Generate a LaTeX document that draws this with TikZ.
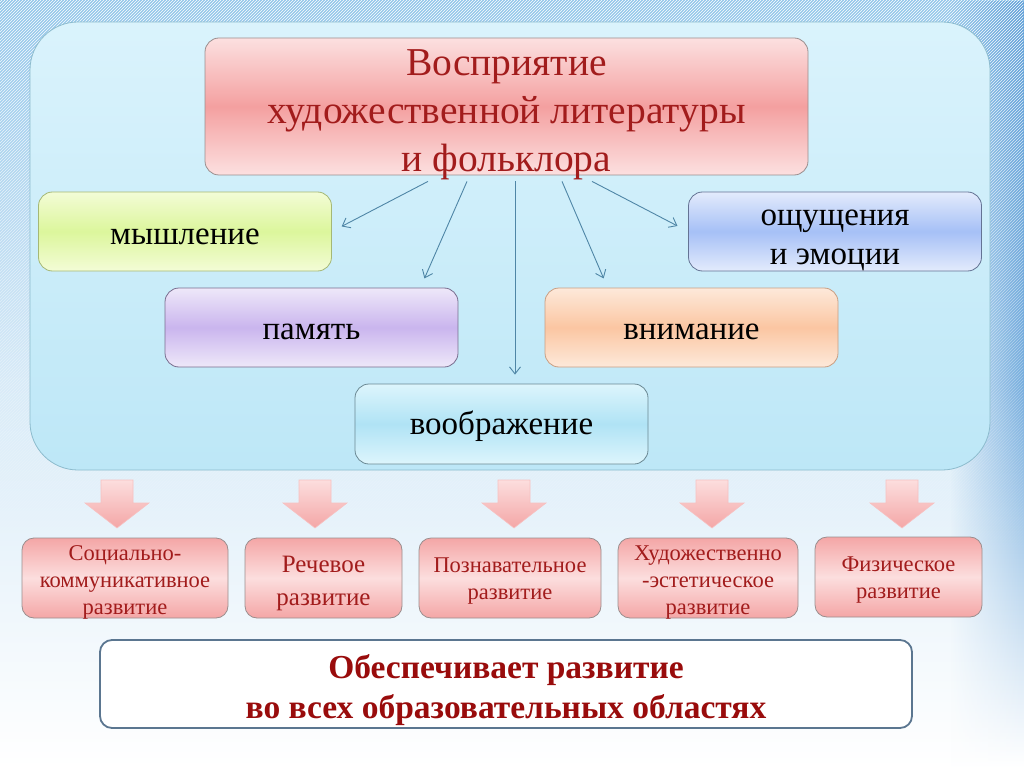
\documentclass[tikz,border=0pt]{standalone}
\usepackage{fontspec}
\setmainfont{Liberation Serif}
\usetikzlibrary{arrows.meta,calc,fadings,patterns}
\definecolor{bgtop}{HTML}{92C6EA}
\definecolor{bgright}{HTML}{5E9FD8}
\definecolor{panelA}{HTML}{DAF3FC}
\definecolor{panelB}{HTML}{BDE7F7}
\definecolor{panelline}{HTML}{8CBBCD}
\definecolor{darkred}{HTML}{A21C1C}
\definecolor{deepred}{HTML}{990C0C}
\definecolor{conncol}{HTML}{4F86A6}
\definecolor{tA}{HTML}{FCE0E0}
\definecolor{tB}{HTML}{F4A0A0}
\definecolor{gA}{HTML}{F3FCD6}
\definecolor{gB}{HTML}{DCF69C}
\definecolor{bA}{HTML}{E3EBFC}
\definecolor{bB}{HTML}{A6C0F6}
\definecolor{lA}{HTML}{EEE8F9}
\definecolor{lB}{HTML}{CAB5EE}
\definecolor{oA}{HTML}{FDE9DA}
\definecolor{oB}{HTML}{FBC6A2}
\definecolor{cA}{HTML}{DDF5FC}
\definecolor{cB}{HTML}{B0E3F5}
\definecolor{pA}{HTML}{F4A6A6}
\definecolor{pB}{HTML}{FCDEDE}
\definecolor{boxline}{HTML}{9A8E8E}
\definecolor{bottomline}{HTML}{5B7690}
\newcommand{\shtext}[2]{\raisebox{-#1}[\height][\depth]{\begin{tabular}{@{}c@{}}#2\end{tabular}}}
\tikzset{
  box/.style={draw=boxline, rounded corners=14pt, line width=0.8pt, align=center, inner sep=0pt},
  mainlbl/.style={box, font=\fontsize{33}{39}\selectfont, text=black, minimum width=293pt, minimum height=79pt},
  devbox/.style={box, rounded corners=12pt, top color=pA, bottom color=pA, middle color=pB, inner ysep=-3pt,
     font=\fontsize{22.5}{27}\selectfont, text=darkred, minimum height=80pt},
  conn/.style={draw=conncol, line width=0.9pt, -{Straight Barb[length=7pt,width=11pt]}},
  blockarrow/.style={draw=pA!70!white, line width=0.6pt, top color=pB, bottom color=pA}
}
\begin{document}
\begin{tikzpicture}[x=1pt,y=-1pt]
\useasboundingbox (0,0) rectangle (1024,767);
% background
\shade[top color=bgtop, bottom color=white, middle color=bgtop!35!white] (0,0) rectangle (1024,767);
\shade[top color=bgright, bottom color=white, middle color=bgright!85!white, path fading=west] (950,0) rectangle (1024,767);
\fill[pattern=north east lines, pattern color=white, fill opacity=0.35, path fading=south] (0,0) rectangle (1024,560);
% panel
\node[draw=panelline, line width=0.8pt, rounded corners=48pt, top color=panelA, bottom color=panelB,
      minimum width=960pt, minimum height=448pt, inner sep=0pt] (panel) at (510,246) {};
% title
\node[box, top color=tA, bottom color=tA, middle color=tB, minimum width=603pt, minimum height=137pt,
      inner ysep=-6pt, font=\fontsize{39.5}{48}\selectfont, text=darkred] (title) at (506.5,106.5)
      {\shtext{7pt}{Восприятие\\художественной литературы\\и фольклора}};
% faculties
\node[mainlbl, top color=gA, bottom color=gA, middle color=gB, draw=gB!75!black] (think) at (185,231.5) {\shtext{5pt}{мышление}};
\node[mainlbl, top color=bA, bottom color=bA, middle color=bB, draw=bB!60!black] (feel) at (835,231.5) {\shtext{6pt}{ощущения\\и эмоции}};
\node[mainlbl, top color=lA, bottom color=lA, middle color=lB, draw=lB!60!black] (mem) at (311.5,327.5) {\shtext{4pt}{память}};
\node[mainlbl, top color=oA, bottom color=oA, middle color=oB, draw=oB!80!black] (attn) at (691.5,327.5) {\shtext{4pt}{внимание}};
\node[mainlbl, top color=cA, bottom color=cA, middle color=cB, draw=cB!60!black, minimum height=80pt] (imag) at (501.5,424) {\shtext{3pt}{воображение}};
% connectors
\coordinate (s1) at ($(title.south)+(-78.5,6)$);
\coordinate (s2) at ($(title.south)+(-39.5,6)$);
\coordinate (s3) at ($(title.south)+(8.5,6)$);
\coordinate (s4) at ($(title.south)+(55.5,6)$);
\coordinate (s5) at ($(title.south)+(85.5,6)$);
\draw[conn, shorten >=11pt] (s1) -- (think.east);
\draw[conn, shorten >=10pt] (s2) -- ($(mem.north east)+(-38,0)$);
\draw[conn, shorten >=9pt] (s3) -- (imag.north -| s3);
\draw[conn, shorten >=10pt] (s4) -- ($(attn.north west)+(63,0)$);
\draw[conn, shorten >=12pt] (s5) -- (feel.west);
% block arrows
\foreach \cx in {117,315,514,712,902}{
  \path[blockarrow] ({\cx-16},480) -- ({\cx+16},480) -- ({\cx+16},503) -- ({\cx+32},503)
     -- (\cx,528) -- ({\cx-32},503) -- ({\cx-16},503) -- cycle;
}
% development areas
\node[devbox, minimum width=206pt] (d1) at (125,578) {\shtext{4pt}{Социально-\\коммуникативное\\развитие}};
\node[devbox, minimum width=157pt, font=\fontsize{25}{33}\selectfont] (d2) at (323.5,578) {\shtext{4pt}{Речевое\\развитие}};
\node[devbox, minimum width=182pt] (d3) at (510,578) {\shtext{3pt}{Познавательное\\развитие}};
\node[devbox, minimum width=180pt] (d4) at (708,578) {\shtext{4pt}{Художественно\\-эстетическое\\развитие}};
\node[devbox, minimum width=167pt] (d5) at (898.5,577) {\shtext{3pt}{Физическое\\развитие}};
% bottom statement
\node[box, draw=bottomline, line width=1.8pt, rounded corners=12pt, fill=white, minimum width=812pt,
      minimum height=88pt, font=\bfseries\fontsize{33.5}{40}\selectfont, text=deepred] (result) at (506,684)
      {\shtext{6pt}{Обеспечивает развитие\\во всех образовательных областях}};
\end{tikzpicture}
\end{document}
